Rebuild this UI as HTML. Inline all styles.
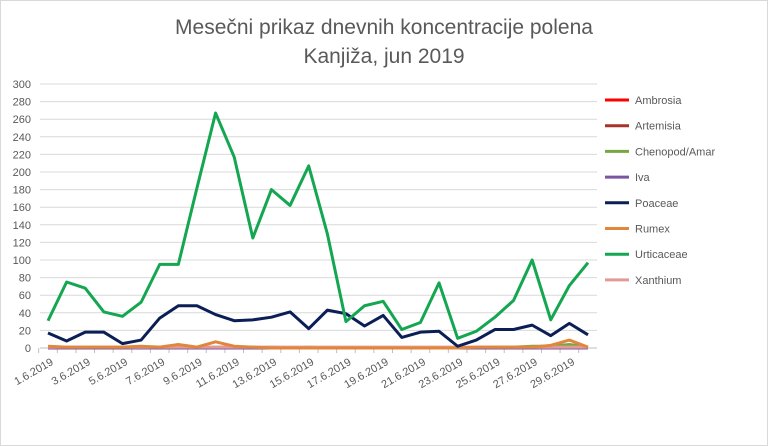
<!DOCTYPE html>
<html><head><meta charset="utf-8"><style>
body{margin:0;background:#fff;font-family:"Liberation Sans",sans-serif}
</style></head><body>
<svg id="c" width="768" height="446" style="display:block">
<rect x="0.5" y="0.5" width="767" height="445" fill="#fff" stroke="#d9d9d9"/>
<text x="384" y="34" text-anchor="middle" font-size="21" fill="#595959">Mesečni prikaz dnevnih koncentracije polena</text>
<text x="384" y="63" text-anchor="middle" font-size="21" fill="#595959">Kanjiža, jun 2019</text>
<g id="grid"></g><g id="series"></g><g id="legend"></g>
</svg>
<script>
const yTicks=[0,20,40,60,80,100,120,140,160,180,200,220,240,260,280,300];
const days=[1,2,3,4,5,6,7,8,9,10,11,12,13,14,15,16,17,18,19,20,21,22,23,24,25,26,27,28,29,30];
const seriesNames=["Ambrosia","Artemisia","Chenopod/Amar","Iva","Poaceae","Rumex","Urticaceae","Xanthium"];
const seriesColors=["#ff0000","#a5342a","#77a743","#7a55a0","#0b1f56","#e0873d","#14a651","#e39a96"];
const ambrosia=[0,0,0,0,0,0,0,0,0,0,0,0,0,0,0,0,0,0,0,0,0,0,0,0,0,0,0,0,0,0];
const artemisia=[0,0,0,0,0,0,0,0,0,0,0,0,0,0,0,0,0,0,0,0,0,0,0,0,0,0,0,0,0,0];
const chenopod=[0,0,0,0,0,0,1,1,0,1,1,0,1,0,1,0,0,0,0,0,0,0,0,0,1,1,2,2,4,1];
const iva=[0,0,0,0,0,0,0,0,0,0,0,0,0,0,0,0,0,0,0,0,0,0,0,0,0,0,0,0,0,0];
const poaceae=[17,8,18,18,5,9,34,48,48,38,31,32,35,41,22,43,39,25,37,12,18,19,2,9,21,21,26,14,28,15];
const rumex=[2,1,1,1,1,2,1,4,1,7,2,1,0,0,0,0,0,0,0,0,0,0,0,1,1,1,1,3,9,1];
const urticaceae=[31,75,68,41,36,52,95,95,182,267,217,125,180,162,207,130,30,48,53,21,29,74,11,19,35,54,100,32,71,97];
const xanthium=[1,1,1,1,1,1,1,1,1,1,1,1,1,1,1,1,1,1,1,1,1,1,1,1,1,1,1,1,1,1];
const allSeries=[ambrosia,artemisia,chenopod,iva,poaceae,rumex,urticaceae,xanthium];
const NS="http://www.w3.org/2000/svg";
const X0=48,X1=588,Y0=348,Y1=84,GL=40,GR=597;
const xs=i=>X0+(X1-X0)*i/(days.length-1);
const ys=v=>Y0-(Y0-Y1)*v/300;
function mk(t,a,p){const e=document.createElementNS(NS,t);for(const k in a)e.setAttribute(k,a[k]);p.appendChild(e);return e;}
const grid=document.getElementById('grid');
yTicks.forEach(v=>{
 const l=mk('line',{x1:GL,x2:GR,y1:ys(v),y2:ys(v),stroke:v===0?'#bfbfbf':'#d9d9d9','stroke-width':1},grid);
 
 
 const t=mk('text',{x:31,y:ys(v)+4,'text-anchor':'end','font-size':11,fill:'#595959'},grid);
 t.textContent=v;
 
 
});
days.forEach((d,i)=>{
 const x=xs(i)-(X1-X0)/(days.length-1)/2;
 const tk=mk('line',{x1:x,x2:x,y1:Y0,y2:Y0+5,stroke:'#bfbfbf'},grid);
 
 
 if(i%2===0){
  const t=mk('text',{x:xs(i)+6,y:Y0+16,'text-anchor':'end','font-size':11,fill:'#595959',transform:`rotate(-30 ${xs(i)+6} ${Y0+16})`},grid);
  t.textContent=d+'.6.2019';
  
  
 }
});
const sg=document.getElementById('series');
const order=[0,1,2,3,7,5,4,6];
order.forEach(si=>{
 const pts=allSeries[si].map((v,i)=>xs(i)+','+ys(v)).join(' ');
 const p=mk('polyline',{points:pts,fill:'none',stroke:seriesColors[si],'stroke-width':3,'stroke-linejoin':'round'},sg);
 
 
});
const lg=document.getElementById('legend');
seriesNames.forEach((n,i)=>{
 const y=100+i*25.7;
 const l=mk('line',{x1:605,x2:629,y1:y,y2:y,stroke:seriesColors[i],'stroke-width':3},lg);
 
 
 const t=mk('text',{x:635,y:y+4,'font-size':11,fill:'#595959'},lg);
 t.textContent=n;
 
 
});
</script>
</body></html>
